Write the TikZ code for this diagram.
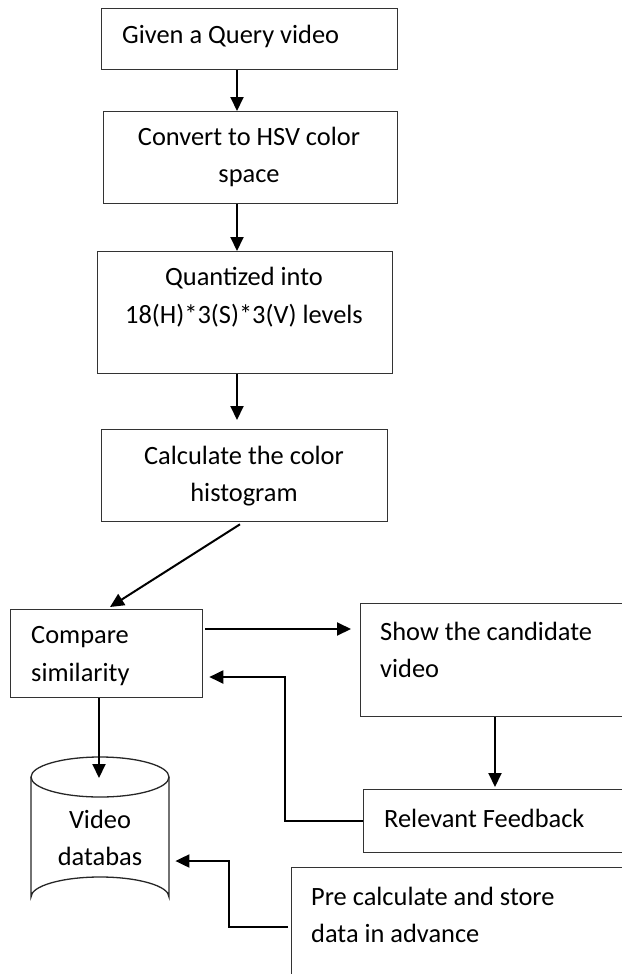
\documentclass[tikz,border=0pt]{standalone}
\usepackage{fontspec}
\setmainfont{Carlito}
\usetikzlibrary{arrows.meta,calc}
\begin{document}
\begin{tikzpicture}[x=1bp,y=-1bp,
  box/.style={draw=black!80, line width=1.3bp, rectangle, inner sep=0, anchor=north west},
  txt/.style={inner sep=0, font=\fontsize{26.5}{37.5}\selectfont},
  arr/.style={line width=2bp, -{Triangle[width=13bp,length=14bp]}}]
\useasboundingbox (0,0) rectangle (622,974);
\begin{scope}
\clip (0,0) rectangle (622,974);
% boxes
\node[box, minimum width=296bp, minimum height=61bp] (b1) at (101,8) {};
\node[box, minimum width=294bp, minimum height=92bp] (b2) at (103,111) {};
\node[box, minimum width=295bp, minimum height=122bp] (b3) at (97,251) {};
\node[box, minimum width=286bp, minimum height=92bp] (b4) at (101,429) {};
\node[box, minimum width=192bp, minimum height=88bp] (cmp) at (10,609) {};
\node[box, minimum width=280bp, minimum height=113bp] (show) at (360,603) {};
\node[box, minimum width=277bp, minimum height=63bp] (rel) at (363,789) {};
\node[box, minimum width=349bp, minimum height=130bp] (pre) at (291,867) {};
% cylinder
\node[inner sep=0, minimum width=138bp, minimum height=160bp, anchor=north west] (db) at (31,757) {};
\draw[black!85, line width=1.3bp] (31,777) -- (31,897) arc[start angle=180, end angle=360, x radius=69, y radius=20] -- (169,777);
\draw[black!85, line width=1.3bp] (100,777) ellipse [x radius=69, y radius=20];
% texts
\node[txt, anchor=west] (t1) at (122,36) {Given a Query video};
\node[txt, align=center] (t2) at (249,157) {Convert to HSV color\\space};
\node[txt, align=center] (t3) at (244,297) {Quantized into\\18(H)*3(S)*3(V) levels};
\node[txt, align=center] (t4) at (244,476) {Calculate the color\\histogram};
\node[txt, align=left, anchor=west] (t5) at (31,656) {Compare\\similarity};
\node[txt, align=left, anchor=west] (t6) at (380,650) {Show the candidate\\video};
\node[txt, anchor=west] (t7) at (384,818) {Relevant Feedback};
\node[txt, align=center] (t8) at (100,838) {Video\\databas};
\node[txt, align=left, anchor=west] (t9) at (311,915) {Pre calculate and store\\data in advance};
% connectors
\draw[arr] ($(b1.south west)+(136,0)$) -- ($(b2.north west)+(134,0)$);
\draw[arr] ($(b2.south west)+(134,0)$) -- ($(b3.north west)+(140,0)$);
\draw[arr] ($(b3.south west)+(140,0)$) -- ($(b4.north west)+(136,-9)$);
\draw[arr] ($(b4.south west)+(139,2)$) -- ($(cmp.north west)+(100,-2)$);
\draw[arr] ($(cmp.north east)+(2,20)$) -- ($(show.north west)+(-9,26)$);
\draw[arr] ($(show.south west)+(135,0)$) -- ($(rel.north west)+(132,-2)$);
\draw[arr] (rel.west) -| ($(cmp.north east)+(82,68)$) -- ($(cmp.north east)+(6,68)$);
\draw[arr] ($(cmp.south west)+(89,0)$) -- ($(db.north west)+(68,21)$);
\draw[arr] ($(pre.north west)+(-3,60)$) -| ($(db.north east)+(60,104)$) -- ($(db.north east)+(6,104)$);
\end{scope}
\end{tikzpicture}
\end{document}
